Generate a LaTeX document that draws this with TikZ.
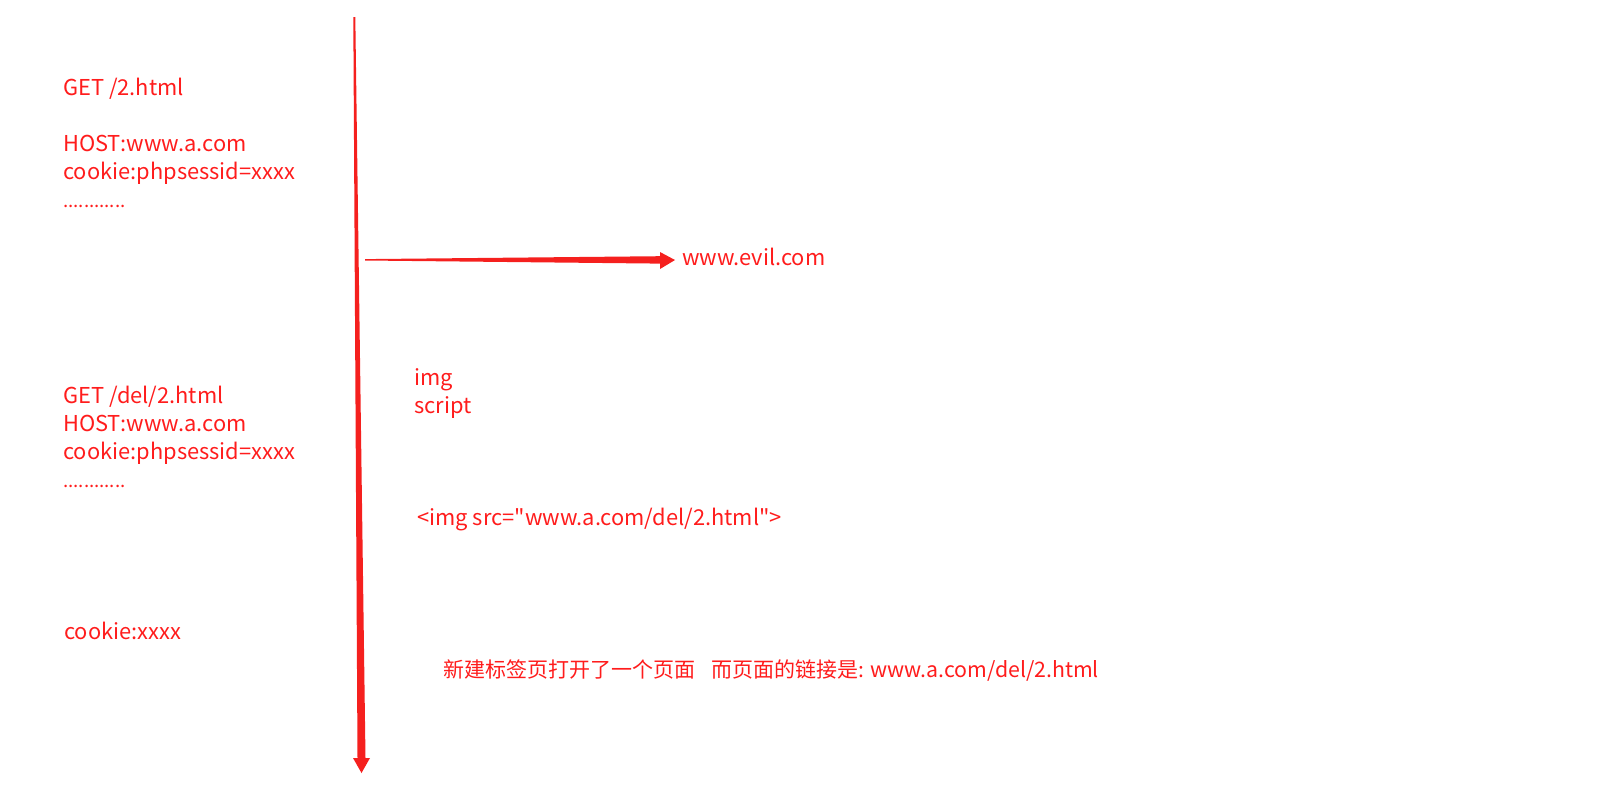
\documentclass[tikz,border=0pt]{standalone}
\usepackage{fontspec}
\setmainfont{Noto Sans CJK SC}[Ligatures=TeXOff]
\usepackage{xcolor}
\usetikzlibrary{positioning,calc}
\definecolor{csrfred}{RGB}{255,28,28}
\definecolor{csrfarrow}{RGB}{245,32,30}
\newcommand{\reqdots}{{\fontsize{14}{21}\selectfont ............}}

\begin{document}
\begin{tikzpicture}[x=0.75pt, y=-0.75pt, txt/.style={text=csrfred, font=\fontsize{16.4}{21}\selectfont, inner sep=0pt, anchor=base west, align=left}]
    \useasboundingbox (0,0) rectangle (1616,811);

    % request to the real site
    \node [txt] (req) at (63,207.7) {GET /2.html\\~\\HOST:www.a.com\\cookie:phpsessid=xxxx\\\reqdots};
    \node [txt] (del) at (63,487.7) {GET /del/2.html\\HOST:www.a.com\\cookie:phpsessid=xxxx\\\reqdots};
    \node [txt] (cookie) at (64,639) {cookie:xxxx};

    % evil page side
    \node [txt] (evil) at (682,265) {www.evil.com};
    \node [txt] (tags) at (414,413.5) {img\\script};
    \node [txt] (imgtag) at (417,525) {<img src="www.a.com/del/2.html">};
    \node [txt, font=\fontsize{15.75}{21}\selectfont] (newtab) at (443,677) {新建标签页打开了一个页面\hspace{12pt}而页面的链接是: {\fontsize{16}{21}\selectfont www.a.com/del/2.html}};

    % time line
    \coordinate (ttop) at (354.3,17);
    \coordinate (tbot) at (361.5,773);
    \fill [csrfarrow] ($(ttop)+(-1,0)$) -- ($(ttop)+(1,0)$) -- ($(tbot)+(4,-15)$) -- ($(tbot)+(8.5,-15)$) -- (tbot) -- ($(tbot)+(-8.5,-15)$) -- ($(tbot)+(-4,-15)$) -- cycle;

    % leak to the evil site
    \coordinate (leak) at (365,259.8);
    \coordinate (leaktip) at ($(evil.base west)+(-7,-5)$);
    \fill [csrfarrow] ($(leak)+(0,-0.7)$) -- ($(leaktip)+(-15,-3.8)$) -- ($(leaktip)+(-15,-8)$) -- (leaktip) -- ($(leaktip)+(-15,9)$) -- ($(leaktip)+(-15,3.6)$) -- ($(leak)+(0,0.7)$) -- cycle;
\end{tikzpicture}
\end{document}
